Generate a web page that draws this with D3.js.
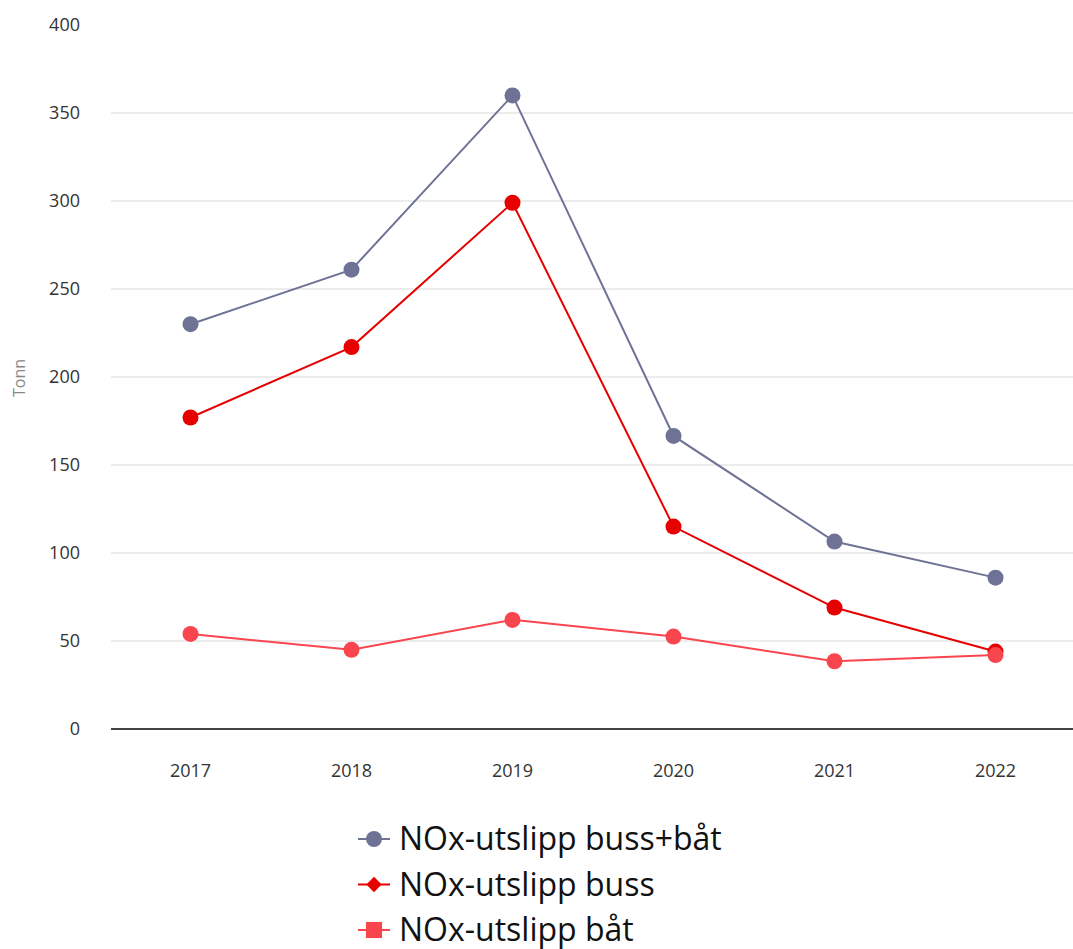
<!DOCTYPE html>
<html>
<head>
<meta charset="utf-8">
<script src="https://cdn.jsdelivr.net/npm/d3@7"></script>
<style>
  body { margin: 0; background: #fff; }
  svg { display: block; font-family: "Open Sans", "Noto Sans", sans-serif; }
</style>
</head>
<body>
<svg id="chart" width="1073" height="949"></svg>
<script>
// NOx emissions (tonnes) per year
const years = ["2017", "2018", "2019", "2020", "2021", "2022"];
const bussBat = [230, 261, 360, 166.5, 106.5, 86];
const buss = [177, 217, 299, 115, 69, 44];
const bat = [54, 45, 62, 52.5, 38.5, 42];
const yTicks = [0, 50, 100, 150, 200, 250, 300, 350, 400];
const seriesNames = ["NOx-utslipp buss+båt", "NOx-utslipp buss", "NOx-utslipp båt"];
const seriesColors = ["#6e7396", "#e60000", "#f9454d"];
const seriesSymbols = ["circle", "diamond", "square"];

const series = [bussBat, buss, bat].map((vals, i) => ({
  name: seriesNames[i], values: vals, color: seriesColors[i], symbol: seriesSymbols[i]
}));

const svg = d3.select("#chart");
const plotLeft = 110, plotRight = 1076, plotTop = 25, plotBottom = 729;
const font = "'Open Sans', 'Noto Sans', sans-serif";

const x = d3.scaleBand().domain(years).range([plotLeft, plotRight]);
const y = d3.scaleLinear().domain([0, 400]).range([plotBottom, plotTop]);

// gridlines (none at the top tick or the baseline)
svg.append("g")
  .selectAll("line")
  .data(yTicks.filter(d => d > 0 && d < 400))
  .join("line")
  .attr("x1", plotLeft + 1).attr("x2", 1073)
  .attr("y1", d => y(d)).attr("y2", d => y(d))
  .attr("stroke", "#e6e6e6").attr("stroke-width", 1.5);

// y axis labels
const yAxis = svg.append("g")
  .attr("transform", `translate(${plotLeft},0)`)
  .call(d3.axisLeft(y).tickValues(yTicks).tickSize(0).tickPadding(30));
yAxis.select(".domain").remove();
yAxis.selectAll("text")
  .attr("font-size", 18).attr("fill", "#333")
  .attr("font-family", font);

// x axis
const xAxis = svg.append("g")
  .attr("transform", `translate(0,${plotBottom})`)
  .call(d3.axisBottom(x).tickSize(0).tickPadding(35));
xAxis.select(".domain").attr("stroke", "#444").attr("stroke-width", 2)
  .attr("d", `M${plotLeft + 1},0H1073`);
xAxis.selectAll("text")
  .attr("font-size", 18).attr("fill", "#333")
  .attr("font-family", font);

// y axis title
svg.append("text")
  .attr("transform", `translate(25,378) rotate(-90)`)
  .attr("text-anchor", "middle")
  .attr("font-size", 16).attr("fill", "#888")
  .text("Tonn");

// lines and markers
const line = d3.line()
  .x((d, i) => x(years[i]) + x.bandwidth() / 2)
  .y(d => y(d));

series.forEach(s => {
  const g = svg.append("g");
  g.append("path")
    .datum(s.values)
    .attr("d", line)
    .attr("fill", "none")
    .attr("stroke", s.color)
    .attr("stroke-width", 2);
  g.selectAll("circle")
    .data(s.values)
    .join("circle")
    .attr("cx", (d, i) => x(years[i]) + x.bandwidth() / 2)
    .attr("cy", d => y(d))
    .attr("r", 8)
    .attr("fill", s.color);
});

// legend
const legend = svg.append("g").attr("transform", "translate(358,839)");
const symbolTypes = { circle: d3.symbolCircle, diamond: d3.symbolDiamond2, square: d3.symbolSquare };
const symbolSizes = { circle: 200, diamond: 150, square: 260 };
series.forEach((s, i) => {
  const row = legend.append("g").attr("transform", `translate(0,${i * 45.5})`);
  row.append("line")
    .attr("x1", 0).attr("x2", 32).attr("y1", 0).attr("y2", 0)
    .attr("stroke", s.color).attr("stroke-width", 2);
  row.append("path")
    .attr("transform", "translate(16,0)")
    .attr("d", d3.symbol(symbolTypes[s.symbol], symbolSizes[s.symbol])())
    .attr("fill", s.color);
  row.append("text")
    .attr("x", 41).attr("y", 0)
    .attr("dy", "0.35em")
    .attr("font-size", 32).attr("fill", "#111")
    .attr("font-family", font)
    .text(s.name);
});
</script>
</body>
</html>
